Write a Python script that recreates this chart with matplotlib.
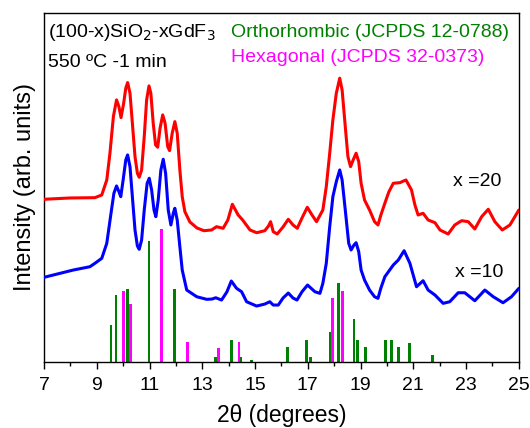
import matplotlib
matplotlib.use("Agg")
import matplotlib.pyplot as plt

plt.rcParams['font.family'] = ['Liberation Sans', 'DejaVu Sans']

# XRD patterns, 2theta (deg) and intensity (arb. units)
tt_x20 = [7.00, 7.99, 8.93, 9.19, 9.38, 9.50, 9.63, 9.75, 9.84, 9.92, 10.02, 10.10,
          10.17, 10.26, 10.35, 10.45, 10.54, 10.61, 10.70, 10.80, 10.89, 10.98, 11.05,
          11.14, 11.23, 11.31, 11.40, 11.50, 11.59, 11.69, 11.76, 11.86, 11.96, 12.05,
          12.15, 12.24, 12.34, 12.53, 12.80, 13.06, 13.35, 13.54, 13.79, 13.97, 14.14,
          14.36, 14.53, 14.81, 15.06, 15.37, 15.51, 15.59, 15.69, 15.84, 16.06, 16.26,
          16.44, 16.60, 16.78, 16.98, 17.16, 17.33, 17.57, 17.70, 17.83, 17.95, 18.08,
          18.21, 18.30, 18.42, 18.52, 18.62, 18.72, 18.83, 18.93, 19.02, 19.15, 19.34,
          19.53, 19.66, 19.77, 19.92, 20.07, 20.24, 20.49, 20.72, 20.93, 21.06, 21.18,
          21.37, 21.56, 21.82, 22.01, 22.32, 22.57, 22.83, 23.08, 23.33, 23.59, 23.84,
          24.09, 24.37, 24.66, 25.00]
int_x20 = [162.7, 164, 164.3, 167, 182, 208.7, 245.3, 262, 255.3, 244.3, 258.7, 273.7,
           279.3, 268.7, 238.7, 205.3, 188.7, 184.7, 192, 225.3, 262, 276, 268.7,
           238.7, 217, 214.7, 233.7, 247, 238.7, 215.3, 211.3, 228.7, 240.3, 228.7,
           192, 165.3, 150.3, 140, 134, 131.3, 132, 135.3, 133.7, 142, 157.7,
           147, 142, 132, 129.3, 131.3, 136, 140.3, 130.3, 128, 135, 142.7,
           137, 133.7, 144, 154.7, 147, 140.3, 152, 175.3, 208.7, 242, 268.7,
           283.7, 272, 235.3, 205.3, 195.3, 202, 208.7, 200.3, 178.7, 162, 152,
           140.3, 137, 147, 158.7, 170, 178.7, 179.3, 182, 172, 157, 147,
           148.7, 142, 139.3, 132, 128, 137, 141.3, 140.3, 133, 145.3, 152.7,
           140.3, 132, 137, 152]

tt_x10 = [7.00, 8.11, 8.74, 8.93, 9.19, 9.38, 9.54, 9.65, 9.75, 9.84, 9.91, 10.00,
          10.10, 10.17, 10.26, 10.35, 10.45, 10.54, 10.61, 10.70, 10.80, 10.91, 10.99,
          11.08, 11.17, 11.24, 11.33, 11.43, 11.52, 11.61, 11.71, 11.81, 11.90, 11.96,
          12.05, 12.15, 12.24, 12.41, 12.79, 13.17, 13.37, 13.51, 13.73, 13.93, 14.10,
          14.30, 14.49, 14.68, 15.06, 15.37, 15.56, 15.69, 15.88, 16.06, 16.26, 16.44,
          16.59, 16.78, 16.99, 17.27, 17.46, 17.57, 17.70, 17.83, 17.95, 18.08, 18.21,
          18.30, 18.42, 18.55, 18.64, 18.75, 18.83, 18.93, 19.02, 19.15, 19.34, 19.53,
          19.66, 19.77, 19.92, 20.24, 20.43, 20.65, 20.87, 21.12, 21.37, 21.56, 21.82,
          22.13, 22.38, 22.70, 22.95, 23.33, 23.71, 24.03, 24.40, 24.72, 25.00]
int_x10 = [84.7, 92, 95.3, 98.7, 103.7, 118.7, 148.7, 168.7, 176, 170.3, 165.3, 182,
           202, 207, 195.3, 165.3, 132, 116, 112.7, 122, 152, 178.7, 183.7,
           172, 152, 145.3, 162, 192, 202.7, 188.7, 152, 137, 148.7, 153.7,
           142, 115.3, 92, 72, 65.3, 62.7, 63, 64.3, 62, 70, 81,
           73.7, 70.3, 60.3, 56, 58, 60.3, 57, 57, 64, 69, 64,
           62, 70.3, 77, 70.3, 68.7, 78.7, 98.7, 135.3, 165.3, 180.3, 192,
           182, 152, 118.7, 112, 117, 119.3, 110.3, 92, 82, 72, 65.3,
           63.7, 74, 85.3, 97, 102, 111.3, 98.7, 75.3, 81.3, 72, 67,
           58.7, 60.3, 69.3, 69.3, 61.3, 72, 65.3, 59.3, 65.3, 73.7]

# reference stick patterns
ortho_tt = [9.54, 9.73, 10.16, 10.98, 11.95, 13.50, 14.10, 14.45, 14.87, 16.22,
            16.94, 17.09, 17.85, 18.15, 18.75, 18.87, 19.17, 19.93, 20.18, 20.43,
            20.86, 21.73]
ortho_int = [37, 67, 73, 121, 73, 5, 22, 5, 2, 15,
             22, 5, 30, 79, 43, 22, 15, 22, 22, 15,
             19, 7]
hexa_tt = [10.03, 10.28, 11.44, 12.45, 13.60, 14.39, 17.94, 18.31]
hexa_int = [71, 58, 133, 20, 14, 20, 64, 71]

fig = plt.figure(figsize=(5.30, 4.28), dpi=100)
ax = fig.add_axes([0.083, 0.154, 0.896, 0.816])

ax.bar(ortho_tt, ortho_int, width=0.11, color='#008000', zorder=2)
ax.bar(hexa_tt, hexa_int, width=0.11, color='#ff00ff', zorder=2)
ax.plot(tt_x20, int_x20, color='#ff0000', lw=2.2, zorder=3,
        solid_joinstyle='round', solid_capstyle='round')
ax.plot(tt_x10, int_x10, color='#0000ff', lw=2.2, zorder=3,
        solid_joinstyle='round', solid_capstyle='round')

ax.set_xlim(7, 25)
ax.set_ylim(0, 349)
ax.set_xticks(range(7, 26, 2))
ax.set_xticks(range(7, 26), minor=True)
ax.set_yticks([])
ax.tick_params(axis='x', which='major', direction='out', length=5, width=1, labelsize=14, pad=6)
ax.tick_params(axis='x', which='minor', direction='out', length=3, width=1)
for s in ax.spines.values():
    s.set_linewidth(1.0)

ax.set_xlabel('2θ (degrees)', fontsize=16.5, labelpad=7)
ax.set_ylabel('Intensity (arb. units)', fontsize=17, labelpad=6)

ax.text(0.008, 0.931, '(100-x)SiO$_2$-xGdF$_3$', transform=ax.transAxes, fontsize=14,
        va='baseline', ha='left')
ax.text(0.008, 0.845, '550 ºC -1 min', transform=ax.transAxes, fontsize=14,
        va='baseline', ha='left')
ax.text(0.394, 0.931, 'Orthorhombic (JCPDS 12-0788)', transform=ax.transAxes, fontsize=14,
        color='#008000', va='baseline', ha='left')
ax.text(0.394, 0.859, 'Hexagonal (JCPDS 32-0373)', transform=ax.transAxes, fontsize=14,
        color='#ff00ff', va='baseline', ha='left')
ax.text(22.5, 180, 'x =20', fontsize=14, va='center', ha='left')
ax.text(22.57, 90, 'x =10', fontsize=14, va='center', ha='left')

fig.savefig('out.png', dpi=100)
